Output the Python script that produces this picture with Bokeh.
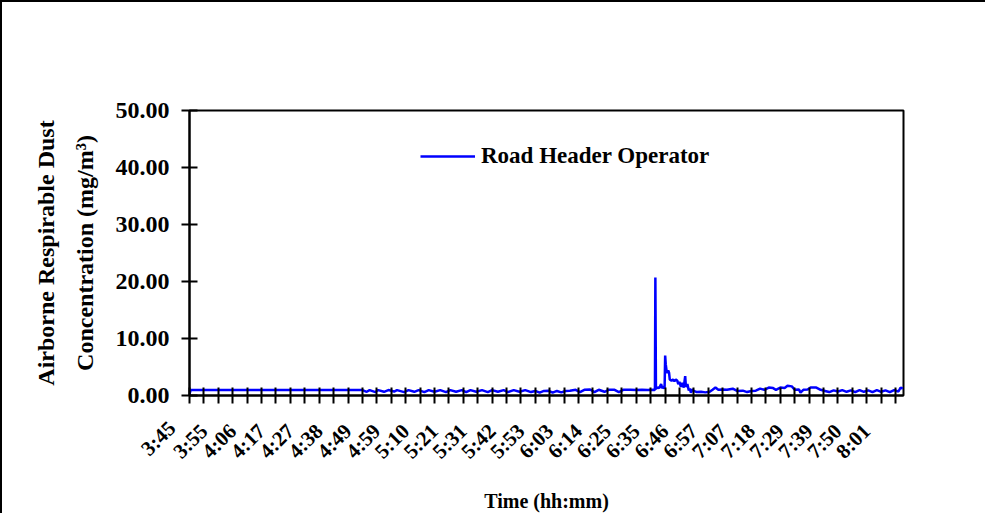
import math
from bokeh.plotting import figure
from bokeh.models import Range1d, LinearAxis, FixedTicker, NumeralTickFormatter
from bokeh.embed import file_html
from bokeh.resources import INLINE

# ---- data (x in axis-tick units, one tick = one category block of the Excel axis) ----
sample_pos = [0.0, 0.08, 1, 2, 3, 4, 5, 6, 7, 8, 9, 10, 11, 12,
              12.3, 12.5, 12.9, 13.1, 13.5, 13.8, 14.2, 14.4, 14.9, 15.2, 15.6, 15.9,
              16.3, 16.6, 17.0, 17.4, 17.8, 18.1, 18.5, 18.9, 19.2, 19.5, 19.9, 20.3,
              20.7, 21.0, 21.4, 21.8, 22.1, 22.5, 22.9, 23.3, 23.7,
              24.0, 24.3, 24.6, 24.9, 25.2, 25.5, 25.8, 26.1, 26.4,
              26.8, 27.1, 27.4, 27.8, 28.1, 28.4, 28.8, 29.1, 29.5, 29.8, 30.1,
              30.6, 31.0, 31.4, 31.8, 32.2, 32.3,
              32.33, 32.37, 32.5, 32.6, 32.73, 32.8, 32.9, 32.97,
              33.01, 33.05, 33.1, 33.17, 33.22, 33.28, 33.33, 33.45, 33.55, 33.65, 33.75,
              33.85, 33.92, 34.0, 34.1, 34.2, 34.3, 34.4, 34.45, 34.55, 34.65, 34.72,
              34.8, 34.9, 35.0,
              35.2, 35.5, 35.8, 36.1, 36.3, 36.5, 36.7, 37.0, 37.3, 37.7, 38.0, 38.4,
              38.7, 39.0, 39.3, 39.6, 39.9, 40.2, 40.5, 40.7, 41.0, 41.3, 41.5, 41.8,
              42.0, 42.3, 42.4, 42.6, 42.9, 43.1, 43.5, 43.8, 44.1, 44.4, 44.7, 45.0,
              45.3, 45.6, 45.9, 46.2, 46.5, 46.8, 47.1, 47.4, 47.7, 48.0, 48.3, 48.6,
              48.9, 49.2, 49.35, 49.5]
road_header = [0.3, 0.95, 0.96, 0.95, 0.96, 0.95, 0.96, 0.95, 0.96, 0.95, 0.96, 0.95, 0.96, 0.95,
               0.65, 0.95, 0.6, 0.95, 0.65, 0.95, 0.7, 0.95, 0.6, 0.95, 0.65, 0.95,
               0.6, 0.95, 0.65, 0.95, 0.6, 0.95, 0.65, 0.95, 0.6, 0.95, 0.65, 0.95,
               0.6, 0.95, 0.65, 0.95, 0.6, 0.95, 0.65, 0.95, 0.6,
               0.8, 0.5, 0.8, 0.85, 0.5, 0.8, 0.55, 0.8, 0.85,
               1.0, 0.6, 1.0, 1.05, 0.6, 1.0, 0.65, 1.0, 1.0, 0.6, 1.0,
               1.0, 0.95, 1.0, 0.95, 1.0, 0.95,
               20.7, 1.2, 1.4, 1.3, 2.0, 1.3, 1.6, 1.2,
               7.0, 5.5, 4.5, 3.9, 4.4, 4.0, 2.8, 2.6, 2.8, 2.5, 2.8,
               2.6, 2.0, 2.4, 1.5, 2.2, 1.4, 3.4, 1.5, 2.0, 0.9, 1.2,
               0.5, 1.1, 0.8,
               0.6, 0.65, 0.55, 0.65, 1.0, 1.4, 1.0, 1.05, 1.0, 1.2, 0.8, 0.85,
               0.6, 0.8, 0.85, 1.2, 1.0, 1.4, 1.3, 1.0, 1.4, 1.3, 1.7, 1.6,
               1.0, 1.05, 0.5, 1.0, 1.05, 1.4, 1.4, 1.0, 0.8, 0.6, 0.9, 0.7,
               0.95, 0.65, 0.9, 0.6, 0.95, 0.65, 0.9, 0.6, 0.95, 0.65, 0.9, 0.6,
               0.95, 0.7, 1.4, 1.2]

tick_positions = list(range(0, 50))
label_positions = [0, 1, 3, 5, 7, 9, 11, 13, 15, 17, 19, 21, 23, 25, 27, 29, 31, 33, 35,
                   37, 39, 41, 43, 45, 47]
time_labels = ["3:45", "3:55", "4:06", "4:17", "4:27", "4:38", "4:49", "4:59", "5:10",
               "5:21", "5:31", "5:42", "5:53", "6:03", "6:14", "6:25", "6:35", "6:46",
               "6:57", "7:07", "7:18", "7:29", "7:39", "7:50", "8:01"]
y_ticks = [0, 10, 20, 30, 40, 50]

SERIF = "Liberation Serif"

p = figure(width=985, height=513, output_backend="svg", toolbar_location=None,
           x_range=Range1d(0, 49.55), y_range=Range1d(0, 50),
           min_border_left=187, min_border_top=108, min_border_right=84,
           min_border_bottom=120)
p.styles = {"border-left": "2px solid black", "border-top": "2px solid black"}
p.xgrid.visible = False
p.ygrid.visible = False
p.outline_line_color = "black"
p.outline_line_width = 2
p.background_fill_color = "white"
p.border_fill_color = "white"

p.line(sample_pos, road_header, line_color="#0000FF", line_width=2.5,
       legend_label="Road Header Operator")

# x axis
xa = p.xaxis[0]
xa.ticker = FixedTicker(ticks=tick_positions)
overrides = {t: "" for t in tick_positions}
for pos, lab in zip(label_positions, time_labels):
    overrides[pos] = lab
# the first label of the original sits one tick left of the axis origin:
# shift it back along its baseline and up by half a line
overrides[0] = time_labels[0] + "\u00a0\u00a0\n\u00a0"
xa.major_label_overrides = overrides
xa.major_label_orientation = math.pi / 4
xa.major_label_text_font = SERIF
xa.major_label_text_font_style = "bold"
xa.major_label_text_font_size = "21px"
xa.major_label_text_color = "black"
xa.major_label_standoff = 24
xa.major_tick_in = 8
xa.major_tick_out = 8
xa.major_tick_line_width = 2
xa.major_tick_line_color = "black"
xa.minor_tick_line_color = None
xa.axis_line_width = 2
xa.axis_line_color = "black"
xa.axis_label = "Time (hh:mm)"
xa.axis_label_text_font = SERIF
xa.axis_label_text_font_style = "bold"
xa.axis_label_text_font_size = "20px"
xa.axis_label_text_color = "black"
xa.axis_label_standoff = -12

# y axis
ya = p.yaxis[0]
ya.ticker = FixedTicker(ticks=y_ticks)
ya.formatter = NumeralTickFormatter(format="0.00")
ya.major_label_text_font = SERIF
ya.major_label_text_font_style = "bold"
ya.major_label_text_font_size = "24px"
ya.major_label_text_color = "black"
ya.major_label_standoff = 12
ya.major_tick_in = 8
ya.major_tick_out = 8
ya.major_tick_line_width = 2
ya.major_tick_line_color = "black"
ya.minor_tick_line_color = None
ya.axis_line_width = 2
ya.axis_line_color = "black"
ya.axis_label = "Concentration (mg/m³)"
ya.axis_label_text_font = SERIF
ya.axis_label_text_font_style = "bold"
ya.axis_label_text_font_size = "24px"
ya.axis_label_text_color = "black"
ya.axis_label_standoff = 15

outer = LinearAxis(ticker=FixedTicker(ticks=[]), axis_line_color=None,
                   major_tick_line_color=None, minor_tick_line_color=None,
                   major_tick_in=0, major_tick_out=0, minor_tick_in=0, minor_tick_out=0,
                   axis_label="Airborne Respirable Dust",
                   axis_label_text_font=SERIF, axis_label_text_font_style="bold",
                   axis_label_text_font_size="24px", axis_label_text_color="black",
                   axis_label_standoff=10)
p.add_layout(outer, "left")

leg = p.legend[0]
leg.location = (231, 225)
leg.border_line_color = None
leg.background_fill_alpha = 0
leg.padding = 0
leg.margin = 0
leg.spacing = 0
leg.glyph_width = 55
leg.glyph_height = 28
leg.label_height = 28
leg.label_standoff = 6
leg.label_text_font = SERIF
leg.label_text_font_style = "bold"
leg.label_text_font_size = "23px"
leg.label_text_color = "black"

open("out.html", "w").write(file_html(p, INLINE))
